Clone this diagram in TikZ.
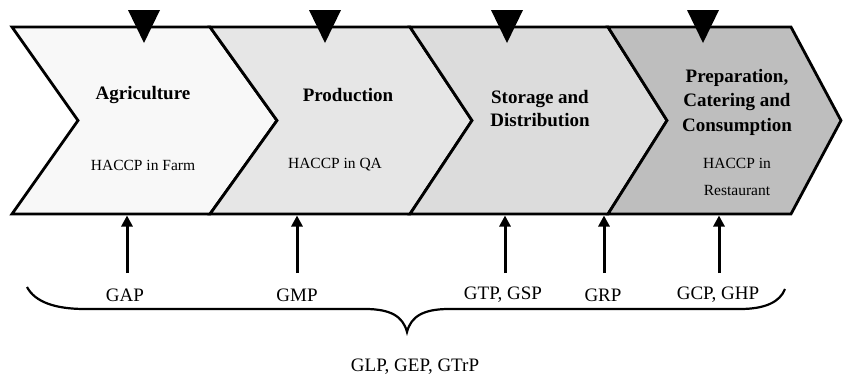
\documentclass[tikz,border=0pt]{standalone}
\usepackage{fontspec}
\setmainfont{Liberation Serif}
\usetikzlibrary{arrows.meta}
\definecolor{cA}{HTML}{F8F8F8}
\definecolor{cB}{HTML}{E6E6E6}
\definecolor{cC}{HTML}{DCDCDC}
\definecolor{cD}{HTML}{BEBEBE}
\tikzset{
  chev/.style={draw=black, line width=2.8pt, line join=miter},
  title/.style={font=\fontsize{19}{23}\selectfont\bfseries, align=center, inner sep=0pt},
  sub/.style={font=\fontsize{15.5}{27}\selectfont, align=center, inner sep=0pt},
  lab/.style={font=\fontsize{19}{22}\selectfont, inner sep=0pt},
  tri/.style={fill=black, draw=none},
  up/.style={line width=3pt, -{Triangle[length=11pt,width=11pt]}},
  brace/.style={line width=2.2pt}
}
\begin{document}
\begin{tikzpicture}[x=1pt,y=-1pt]
\useasboundingbox (0,0) rectangle (843,375);
% chevrons
\draw[chev, fill=cA] (12,27) -- (210,27) -- (277,120.5) -- (210,214) -- (12,214) -- (78,120.5) -- cycle;
\draw[chev, fill=cB] (210,27) -- (410,27) -- (472,120.5) -- (410,214) -- (210,214) -- (277,120.5) -- cycle;
\draw[chev, fill=cC] (410,27) -- (608,27) -- (667,120.5) -- (608,214) -- (410,214) -- (472,120.5) -- cycle;
\draw[chev, fill=cD] (608,27) -- (791,27) -- (841,120.5) -- (791,214) -- (608,214) -- (667,120.5) -- cycle;
% top triangles
\foreach \x in {144,325,507,703} {
  \fill[tri] (\x-16,10) -- (\x+16,10) -- (\x,43) -- cycle;
}
% texts
\node[title] (agr) at (143,95) {Agriculture};
\node[sub] (hfarm) at (143,165) {HACCP in Farm};
\node[title] (prod) at (348,95) {Production};
\node[sub] (hqa) at (335,165) {HACCP in QA};
\node[title] (stor) at (540,109) {Storage and\\Distribution};
\node[title, font=\fontsize{19}{24.5}\selectfont\bfseries] (prep) at (737,102) {Preparation,\\Catering and\\Consumption};
\node[sub] (hrest) at (737,176.5) {HACCP in\\Restaurant};
% bottom labels
\node[lab] (gap) at (125,295) {GAP};
\node[lab] (gmp) at (297,295) {GMP};
\node[lab] (gtp) at (503,295) {GTP, GSP};
\node[lab] (grp) at (603,295) {GRP};
\node[lab] (gcp) at (718,295) {GCP, GHP};
\node[lab] (glp) at (415,367) {GLP, GEP, GTrP};
% arrow targets
\coordinate (tA) at (127,215.5);
\coordinate (tB) at (297,215.5);
\coordinate (tC) at (505,215.5);
\coordinate (tD) at (604,215.5);
\coordinate (tE) at (719,215.5);
\draw[up] (127,273) -- (tA);
\draw[up] (297,273) -- (tB);
\draw[up] (505,273) -- (tC);
\draw[up] (604,273) -- (tD);
\draw[up] (719,273) -- (tE);
% brace
\draw[brace] (27,287) .. controls (35,302) and (55,309) .. (85,309)
  -- (365,309) .. controls (390,309) and (403,316) .. (407,332)
  .. controls (411,316) and (424,309) .. (449,309)
  -- (740,309) .. controls (765,309) and (780,302) .. (785,289);
\end{tikzpicture}
\end{document}
